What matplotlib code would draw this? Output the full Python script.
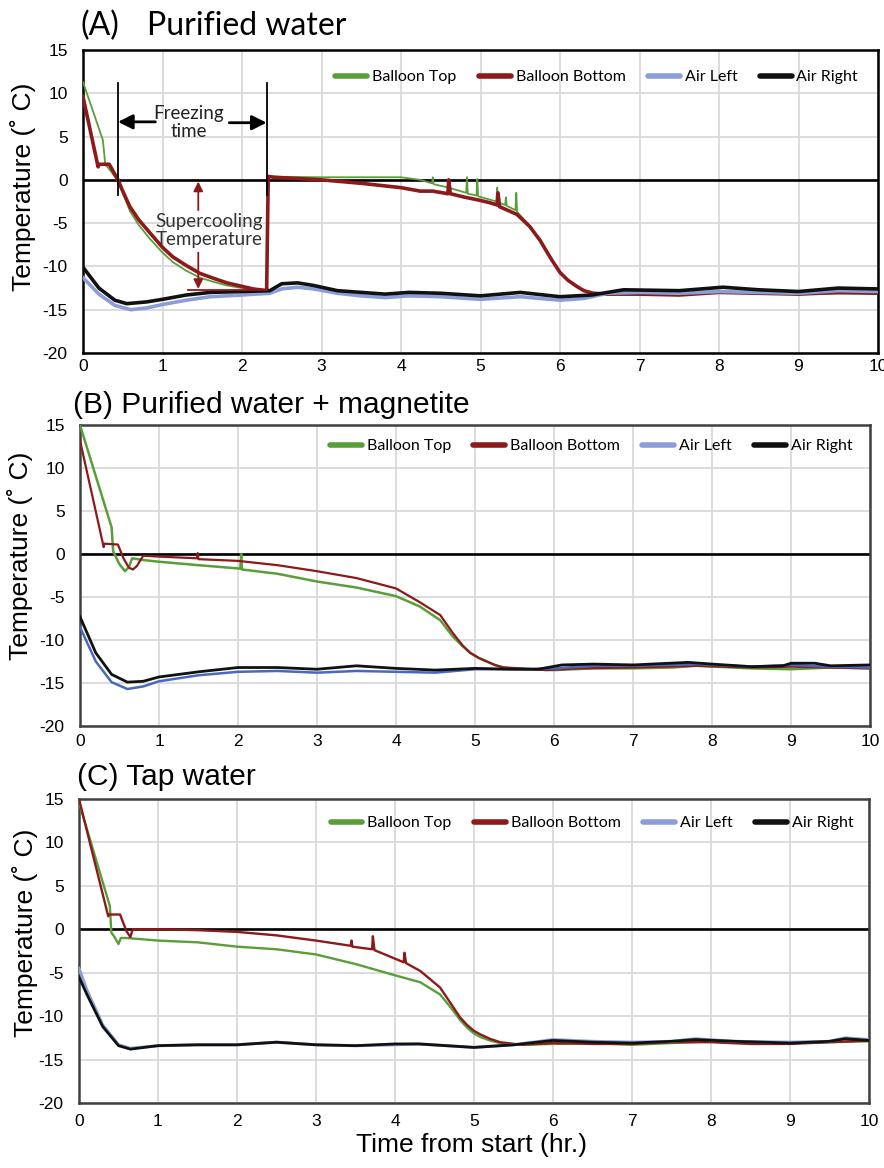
import matplotlib
matplotlib.use("Agg")
import matplotlib.pyplot as plt
from matplotlib.lines import Line2D

plt.rcParams['axes.unicode_minus'] = False

# ---------------- data (time in hr, temperature in C) ----------------
# (A) Purified water
a_top_t = [0, 0.25, 0.28, 0.35, 0.43, 0.5, 0.59, 0.7, 0.84, 1.0, 1.13, 1.3, 1.47, 1.65,
           1.81, 2.0, 2.14, 2.31, 2.33,
           2.5, 3.0, 3.5, 4.0, 4.24, 4.39, 4.40, 4.41, 4.6, 4.82, 4.83, 4.84, 4.95, 4.96,
           4.97, 5.20, 5.21, 5.22, 5.31, 5.32, 5.33, 5.44, 5.45, 5.46, 5.62, 5.75, 5.84,
           5.9, 6.0, 6.1, 6.21, 6.3, 6.42, 6.6, 7.0, 8.0, 9.0, 10.0]
a_top_v = [11.3, 4.6, 1.8, 1.0, 0.0, -1.5, -3.6, -5.2, -6.8, -8.4, -9.5, -10.5, -11.3, -11.8,
           -12.2, -12.5, -12.6, -12.7, 0.4,
           0.35, 0.3, 0.3, 0.3, 0.0, -0.4, 0.3, -0.5, -0.9, -1.5, 0.3, -1.6, -1.8, 0.1,
           -1.9, -2.5, -0.9, -2.6, -2.9, -2.0, -3.0, -3.5, -1.5, -3.7, -5.3, -6.9, -8.4,
           -9.3, -10.7, -11.6, -12.3, -12.8, -13.1, -13.2, -13.2, -13.0, -13.2, -13.1]
a_bot_t = [0, 0.19, 0.20, 0.33, 0.44, 0.5, 0.59, 0.7, 0.84, 1.0, 1.13, 1.3, 1.47, 1.65,
           1.81, 2.0, 2.14, 2.31, 2.33,
           2.4, 3.0, 3.5, 4.0, 4.24, 4.4, 4.59, 4.60, 4.62, 4.8, 4.96, 5.1, 5.21, 5.22,
           5.24, 5.46, 5.62, 5.75, 5.84, 5.9, 6.0, 6.1, 6.21, 6.3, 6.42, 6.6, 7.0, 7.5,
           8.0, 8.5, 9.0, 9.5, 10.0]
a_bot_v = [9.6, 1.5, 1.8, 1.8, 0.0, -1.3, -3.1, -4.6, -6.1, -7.8, -8.9, -9.9, -10.8, -11.4,
           -11.9, -12.3, -12.6, -12.8, 0.4,
           0.3, 0.0, -0.4, -0.9, -1.3, -1.3, -1.6, 0.0, -1.6, -2.0, -2.3, -2.6, -2.9,
           -1.5, -3.1, -4.0, -5.4, -7.0, -8.4, -9.3, -10.7, -11.6, -12.3, -12.8, -13.1,
           -13.2, -13.2, -13.3, -13.0, -13.1, -13.2, -13.0, -13.1]
a_left_t = [0, 0.2, 0.4, 0.6, 0.8, 1.0, 1.3, 1.6, 2.0, 2.35, 2.5, 2.7, 2.9, 3.2, 3.5, 3.8,
            4.1, 4.5, 5.0, 5.5, 6.0, 6.3, 6.6, 7.0, 7.5, 8.0, 8.5, 9.0, 9.5, 10.0]
a_left_v = [-11.3, -13.2, -14.5, -15.0, -14.8, -14.4, -13.9, -13.5, -13.3, -13.1, -12.6,
            -12.4, -12.6, -13.1, -13.4, -13.6, -13.4, -13.5, -13.8, -13.5, -13.9, -13.7,
            -13.1, -13.0, -13.1, -12.9, -13.0, -13.1, -12.8, -12.9]
a_right_t = [0, 0.2, 0.4, 0.55, 0.8, 1.0, 1.3, 1.6, 2.0, 2.35, 2.5, 2.7, 2.9, 3.2, 3.5,
             3.8, 4.1, 4.5, 5.0, 5.5, 6.0, 6.4, 6.8, 7.5, 8.05, 8.5, 9.0, 9.5, 10.0]
a_right_v = [-10.1, -12.5, -13.9, -14.3, -14.1, -13.8, -13.3, -13.0, -12.9, -12.8, -12.0,
             -11.9, -12.2, -12.8, -13.0, -13.2, -13.0, -13.1, -13.4, -13.0, -13.5, -13.3,
             -12.7, -12.8, -12.4, -12.7, -12.9, -12.5, -12.6]

# (B) Purified water + magnetite
b_top_t = [0, 0.40, 0.42, 0.50, 0.57, 0.62, 0.66, 0.8, 1.0, 1.5, 2.03, 2.04, 2.05, 2.5,
           3.0, 3.5, 4.0, 4.3, 4.56, 4.72, 4.84, 4.94, 5.05, 5.15, 5.25, 5.36, 5.6, 6.0,
           6.5, 7.0, 7.5, 7.8, 8.5, 9.0, 9.5, 10.0]
b_top_v = [15.0, 3.1, 0.3, -1.2, -2.0, -1.5, -0.5, -0.7, -0.9, -1.3, -1.7, 0.0, -1.8,
           -2.3, -3.2, -3.9, -4.9, -6.1, -7.7, -9.6, -10.7, -11.5, -12.1, -12.5, -12.9,
           -13.2, -13.4, -13.5, -13.3, -13.3, -13.2, -13.0, -13.3, -13.4, -13.2, -13.3]
b_bot_t = [0, 0.30, 0.31, 0.48, 0.55, 0.62, 0.67, 0.72, 0.80, 1.0, 1.48, 1.49, 1.50, 2.0,
           2.5, 3.0, 3.5, 4.0, 4.3, 4.56, 4.72, 4.84, 4.94, 5.05, 5.15, 5.25, 5.36, 5.6,
           5.9, 6.3, 7.0, 7.8, 8.5, 9.0, 9.5, 10.0]
b_bot_v = [13.2, 0.8, 1.2, 1.1, -0.5, -1.6, -1.8, -1.4, -0.2, -0.3, -0.5, 0.1, -0.6, -0.8,
           -1.3, -2.0, -2.8, -4.0, -5.6, -7.1, -9.2, -10.6, -11.5, -12.1, -12.5, -12.9,
           -13.2, -13.3, -13.5, -13.3, -13.2, -13.0, -13.2, -13.1, -13.2, -13.3]
b_left_t = [0, 0.2, 0.4, 0.6, 0.8, 1.0, 1.5, 2.0, 2.5, 3.0, 3.5, 4.0, 4.5, 5.0, 5.5, 6.0,
            6.5, 7.0, 7.8, 8.5, 9.0, 9.5, 10.0]
b_left_v = [-8.5, -12.5, -14.9, -15.7, -15.4, -14.8, -14.1, -13.7, -13.6, -13.8, -13.6,
            -13.7, -13.8, -13.4, -13.4, -13.3, -13.0, -13.0, -12.8, -13.1, -12.9, -13.1,
            -13.2]
b_right_t = [0, 0.2, 0.4, 0.6, 0.8, 1.0, 1.5, 2.0, 2.5, 3.0, 3.5, 4.0, 4.5, 5.0, 5.5, 5.8,
             6.1, 6.5, 7.0, 7.7, 8.0, 8.5, 8.9, 9.0, 9.3, 9.5, 10.0]
b_right_v = [-7.3, -11.5, -14.0, -14.9, -14.8, -14.3, -13.7, -13.2, -13.2, -13.4, -13.0,
             -13.3, -13.5, -13.3, -13.4, -13.4, -12.9, -12.8, -12.9, -12.6, -12.8, -13.1,
             -13.0, -12.7, -12.7, -13.0, -12.9]

# (C) Tap water
c_top_t = [0, 0.39, 0.41, 0.45, 0.50, 0.53, 0.6, 1.0, 1.5, 2.0, 2.5, 3.0, 3.5, 4.0, 4.32,
           4.57, 4.74, 4.82, 4.91, 5.0, 5.08, 5.2, 5.33, 5.6, 6.0, 6.5, 7.0, 7.5, 8.0,
           8.5, 9.0, 9.5, 10.0]
c_top_v = [14.6, 2.7, -0.4, -0.9, -1.7, -1.0, -1.0, -1.3, -1.5, -2.0, -2.3, -2.9, -4.0,
           -5.3, -6.1, -7.5, -9.4, -10.4, -11.3, -12.0, -12.4, -12.8, -13.1, -13.3, -13.2,
           -13.1, -13.3, -13.1, -12.9, -13.0, -13.1, -13.0, -12.9]
c_bot_t = [0, 0.37, 0.38, 0.52, 0.60, 0.65, 0.68, 1.0, 1.5, 2.0, 2.5, 3.0, 3.44, 3.45,
           3.46, 3.71, 3.72, 3.74, 4.11, 4.12, 4.14, 4.32, 4.57, 4.74, 4.82, 4.91, 5.0,
           5.08, 5.2, 5.33, 5.6, 6.0, 6.5, 7.0, 7.5, 8.0, 8.5, 9.0, 9.5, 10.0]
c_bot_v = [15.0, 1.5, 1.7, 1.7, -0.2, -0.9, 0.0, 0.0, -0.1, -0.3, -0.7, -1.3, -1.9, -1.3,
           -2.0, -2.3, -0.8, -2.4, -3.8, -2.7, -3.9, -4.8, -6.7, -9.0, -10.1, -11.0, -11.7,
           -12.1, -12.6, -13.0, -13.3, -13.1, -13.2, -13.2, -13.0, -13.0, -13.2, -13.2,
           -13.0, -12.8]
c_left_t = [0, 0.1, 0.3, 0.5, 0.65, 1.0, 1.5, 2.0, 2.5, 3.0, 3.5, 4.0, 4.3, 5.0, 5.5, 6.0,
            6.5, 7.0, 7.5, 7.8, 8.3, 9.0, 9.5, 9.7, 10.0]
c_left_v = [-4.5, -7.0, -11.0, -13.3, -13.7, -13.4, -13.3, -13.3, -13.0, -13.3, -13.4,
            -13.3, -13.2, -13.6, -13.3, -12.7, -12.9, -13.0, -12.9, -12.6, -12.9, -13.0,
            -12.9, -12.5, -12.7]
c_right_t = [0, 0.1, 0.3, 0.5, 0.65, 1.0, 1.5, 2.0, 2.5, 3.0, 3.5, 4.0, 4.3, 5.0, 5.5, 6.0,
             6.5, 7.0, 7.5, 7.8, 8.3, 9.0, 9.5, 9.7, 10.0]
c_right_v = [-5.5, -7.5, -11.2, -13.4, -13.8, -13.4, -13.3, -13.3, -13.0, -13.3, -13.4,
             -13.2, -13.2, -13.6, -13.3, -12.8, -13.0, -13.1, -12.9, -12.7, -12.9, -13.1,
             -12.9, -12.6, -12.8]

series_names = ['Balloon Top', 'Balloon Bottom', 'Air Left', 'Air Right']
xticks = list(range(0, 11))
yticks = list(range(-20, 16, 5))

GREEN = '#5a9e3a'
RED = '#8c1a1a'
LBLUE = '#8c9ed8'
DBLUE = '#4a68c0'
BLACK = '#111111'

fig = plt.figure(figsize=(8.84, 11.68), dpi=100)

axA = fig.add_axes([83/884, 1-353/1168, 795/884, 303/1168])
axB = fig.add_axes([80/884, 1-726/1168, 790/884, 301/1168])
axC = fig.add_axes([79/884, 1-1103/1168, 790/884, 304/1168])

# panel A lines
axA.plot(a_top_t, a_top_v, color=GREEN, lw=1.3, zorder=3)
axA.plot(a_bot_t, a_bot_v, color=RED, lw=2.6, zorder=4)
axA.plot(a_left_t, a_left_v, color=LBLUE, lw=2.6, zorder=5)
axA.plot(a_right_t, a_right_v, color=BLACK, lw=2.6, zorder=6)

# panel B lines
axB.plot(b_top_t, b_top_v, color=GREEN, lw=1.8, zorder=3)
axB.plot(b_bot_t, b_bot_v, color=RED, lw=1.6, zorder=4)
axB.plot(b_left_t, b_left_v, color=DBLUE, lw=1.8, zorder=5)
axB.plot(b_right_t, b_right_v, color=BLACK, lw=2.0, zorder=6)

# panel C lines
axC.plot(c_top_t, c_top_v, color=GREEN, lw=1.7, zorder=3)
axC.plot(c_bot_t, c_bot_v, color=RED, lw=1.7, zorder=4)
axC.plot(c_left_t, c_left_v, color=LBLUE, lw=2.2, zorder=5)
axC.plot(c_right_t, c_right_v, color=BLACK, lw=2.0, zorder=6)

leg_colors = [GREEN, RED, LBLUE, BLACK]
leg_pos = {axA: (0.975, 0.91), axB: (0.978, 0.93), axC: (0.98, 0.92)}
xpad = {axA: 4, axB: 6, axC: 8}
frame_col = {axA: 'black', axB: '#404040', axC: '#404040'}
ylab_pos = {axA: (-0.059, 0.548), axB: (-0.06, 0.565), axC: (-0.052, 0.56)}

for ax in (axA, axB, axC):
    ax.set_xlim(0, 10)
    ax.set_ylim(-20, 15)
    ax.set_xticks(xticks)
    ax.set_yticks(yticks)
    ax.grid(True, color='#d9d9d9', lw=1.3, zorder=0)
    ax.set_axisbelow(True)
    ax.axhline(0, color='black', lw=1.9, zorder=2)
    for s in ax.spines.values():
        s.set_color(frame_col[ax])
        s.set_linewidth(1.8)
    ax.tick_params(axis='both', length=0, labelsize=12.5)
    ax.tick_params(axis='y', pad=11)
    ax.tick_params(axis='x', pad=xpad[ax])
    for lab in ax.get_xticklabels() + ax.get_yticklabels():
        lab.set_fontfamily('Liberation Sans')
    ax.set_ylabel('Temperature (\u02da C)', fontsize=19, family='Liberation Sans')
    ax.yaxis.set_label_coords(*ylab_pos[ax])
    handles = [Line2D([], [], color=c, lw=4, solid_capstyle='round') for c in leg_colors]
    ax.legend(handles, series_names, loc='center right', bbox_to_anchor=leg_pos[ax],
              ncol=4, frameon=False, prop={'family': 'Lato', 'size': 11.5},
              handlelength=2.0, handletextpad=0.3, columnspacing=1.4,
              borderpad=0, borderaxespad=0)

# annotations on panel A
for tx in (0.44, 2.31):
    axA.plot([tx, tx], [11.2, -1.8], color='black', lw=1.3, zorder=7)
axA.annotate('', xy=(0.44, 6.7), xytext=(0.91, 6.7),
             arrowprops=dict(arrowstyle='-|>', color='black', lw=2, mutation_scale=22,
                             shrinkA=0, shrinkB=0), zorder=7)
axA.annotate('', xy=(2.31, 6.6), xytext=(1.84, 6.6),
             arrowprops=dict(arrowstyle='-|>', color='black', lw=2, mutation_scale=22,
                             shrinkA=0, shrinkB=0), zorder=7)
axA.text(1.33, 6.6, 'Freezing\ntime', ha='center', va='center', fontsize=13.5,
         family='Lato', color='#222222', linespacing=1.05, zorder=7)
axA.annotate('', xy=(1.45, -0.2), xytext=(1.45, -3.5),
             arrowprops=dict(arrowstyle='-|>', color=RED, lw=1.3, mutation_scale=14,
                             shrinkA=0, shrinkB=0), zorder=7)
axA.annotate('', xy=(1.45, -12.6), xytext=(1.45, -8.4),
             arrowprops=dict(arrowstyle='-|>', color=RED, lw=1.3, mutation_scale=14,
                             shrinkA=0, shrinkB=0), zorder=7)
axA.plot([1.32, 2.31], [-12.7, -12.7], color=RED, lw=1.3, zorder=7)
axA.text(1.59, -5.85, 'Supercooling\nTemperature', ha='center', va='center', fontsize=13.5,
         family='Lato', color='#333333', linespacing=1.05, zorder=7)

# panel titles
fig.text(80/884, 1-35/1168, '(A)', fontsize=23, family='Lato', va='baseline')
fig.text(147/884, 1-35/1168, 'Purified water', fontsize=23, family='Lato', va='baseline')
fig.text(73/884, 1-413/1168, '(B) Purified water + magnetite', fontsize=21.5,
         family='Liberation Sans', va='baseline')
fig.text(77/884, 1-785/1168, '(C) Tap water', fontsize=21.5,
         family='Liberation Sans', va='baseline')

fig.text(471/884, 1-1145/1168, 'Time from start (hr.)', fontsize=19,
         family='Liberation Sans', ha='center', va='center')

fig.savefig('out.png', dpi=100)
